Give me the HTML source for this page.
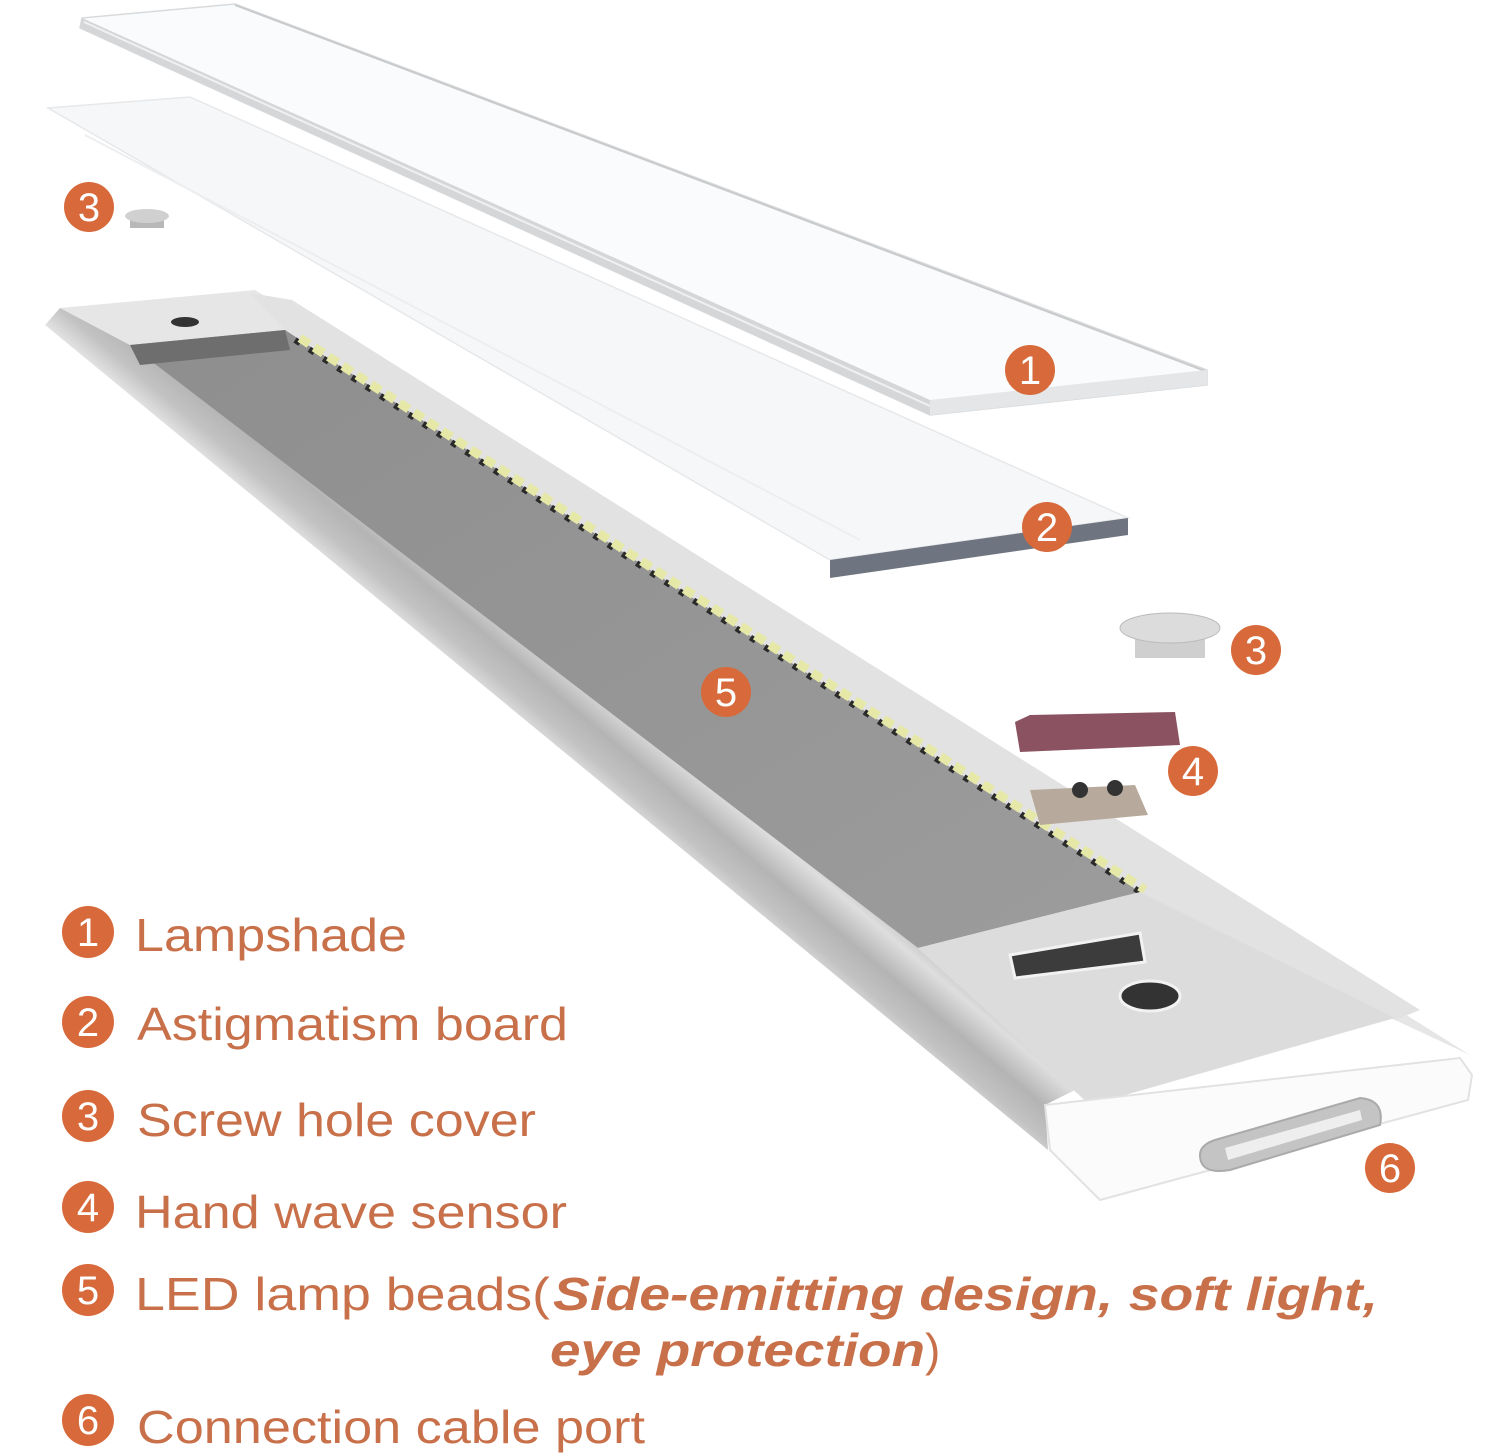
<!DOCTYPE html>
<html><head><meta charset="utf-8"><style>
html,body{margin:0;padding:0;background:#fff;}
svg{display:block}
text{font-family:"Liberation Sans",sans-serif}
</style></head><body>
<svg width="1500" height="1454" viewBox="0 0 1500 1454" xmlns="http://www.w3.org/2000/svg">
<defs>
<linearGradient id="rail" gradientUnits="userSpaceOnUse" x1="495" y1="715" x2="560" y2="638">
<stop offset="0" stop-color="#eeeeee"/><stop offset="0.3" stop-color="#c2c2c2"/><stop offset="0.55" stop-color="#b4b4b4"/><stop offset="0.85" stop-color="#dedede"/><stop offset="1" stop-color="#c6c6c6"/></linearGradient>
<linearGradient id="cav" x1="0" y1="0" x2="1" y2="1"><stop offset="0" stop-color="#8e8e8e"/><stop offset="1" stop-color="#9c9c9c"/></linearGradient>
</defs>
<!-- board 2 -->
<polygon points="48,108 190,97 1128,518 830,560" fill="#f6f7f8" stroke="#e6e8ea" stroke-width="1.5"/>
<line x1="85" y1="135" x2="860" y2="540" stroke="#eceef0" stroke-width="2"/>
<polygon points="830,560 1128,518 1128,535 830,578" fill="#6f7580"/>
<!-- lampshade -->
<polygon points="82,18 235,4 1207,370 1207,385 930,415 80,28" fill="#fafbfc" stroke="#d8dadc" stroke-width="1.5"/>
<polygon points="82,18 930,400 930,415 80,28" fill="#d4d6d8"/>
<line x1="84" y1="22" x2="930" y2="406" stroke="#eef0f1" stroke-width="2"/>
<line x1="235" y1="5" x2="1205" y2="371" stroke="#c8cacc" stroke-width="2"/>
<polygon points="930,400 1207,370 1207,385 930,415" fill="#e4e6e8"/>
<!-- body -->
<polygon points="60,308 255,290 1470,1055 1395,1020 1140,892 285,330 130,345" fill="#e6e6e6"/>
<polygon points="250,293 292,300 1420,1010 1395,1020 1140,892 285,330" fill="#e2e2e2"/>
<polygon points="285,330 1140,892 1130,898 275,345" fill="#b0b0b0"/>
<polygon points="45,325 60,308 130,345 918,948 1075,1090 1045,1105 1048,1150" fill="url(#rail)"/>
<polygon points="130,345 285,330 1140,892 918,948" fill="url(#cav)"/>
<polygon points="130,345 285,330 290,350 140,365" fill="#6e6e6e"/>
<ellipse cx="185" cy="322" rx="14" ry="5" fill="#333"/>
<!-- LEDs -->
<line x1="295" y1="340" x2="1140" y2="892" stroke="#2a2a2a" stroke-width="6" stroke-dasharray="6 11"/>
<line x1="300" y1="338" x2="1145" y2="890" stroke="#e6e8a8" stroke-width="9" stroke-dasharray="11 6"/>
<!-- end plate -->
<polygon points="918,948 1140,892 1395,1018 1090,1105" fill="#dcdcdc"/>
<polygon points="1010,955 1140,933 1145,962 1015,978" fill="#3c3c3c" stroke="#f2f2f2" stroke-width="3"/>
<ellipse cx="1150" cy="996" rx="30" ry="15" fill="#333" stroke="#f2f2f2" stroke-width="3"/>
<polygon points="1045,1105 1460,1058 1472,1075 1468,1100 1100,1200 1050,1150" fill="#fbfbfb" stroke="#e2e2e2" stroke-width="2"/>
<path d="M1215,1140 L1360,1098 Q1385,1100 1380,1125 L1230,1170 Q1200,1175 1200,1155 Q1200,1145 1215,1140 Z" fill="#c4c4c4" stroke="#aaa" stroke-width="2"/>
<path d="M1225,1148 L1360,1110 L1362,1120 L1228,1160 Z" fill="#eeeeee"/>
<!-- caps -->
<rect x="130" y="216" width="34" height="12" fill="#b8b8b8"/><ellipse cx="147" cy="216" rx="22" ry="7" fill="#d0d0d0"/>
<rect x="1135" y="628" width="70" height="30" fill="#cfcfcf"/>
<ellipse cx="1170" cy="628" rx="50" ry="15" fill="#dcdcdc" stroke="#bbb"/>
<!-- sensor -->
<polygon points="1030,715 1175,712 1180,745 1020,752 1015,722" fill="#8b5262"/>
<polygon points="1030,790 1135,785 1148,815 1040,825" fill="#b7aa9c"/>
<circle cx="1080" cy="790" r="8" fill="#333"/><circle cx="1115" cy="788" r="8" fill="#333"/>
<!-- callouts -->
<g fill="#d7693a">
<circle cx="1030" cy="370" r="25"/><circle cx="1047" cy="527" r="25"/><circle cx="89" cy="207" r="25"/>
<circle cx="1256" cy="650" r="25"/><circle cx="1193" cy="771" r="25"/><circle cx="726" cy="692" r="25"/>
<circle cx="1390" cy="1168" r="25"/>
<circle cx="88" cy="932" r="26"/><circle cx="88" cy="1022" r="26"/><circle cx="88" cy="1116" r="26"/>
<circle cx="88" cy="1207" r="26"/><circle cx="88" cy="1290" r="26"/><circle cx="88" cy="1420" r="26"/>
</g>
<g fill="#fff" font-size="40" text-anchor="middle">
<text x="1030" y="384">1</text><text x="1047" y="541">2</text><text x="89" y="221">3</text>
<text x="1256" y="664">3</text><text x="1193" y="785">4</text><text x="726" y="706">5</text>
<text x="1390" y="1182">6</text>
<text x="88" y="946">1</text><text x="88" y="1036">2</text><text x="88" y="1130">3</text>
<text x="88" y="1221">4</text><text x="88" y="1304">5</text><text x="88" y="1434">6</text>
</g>
<g fill="#c8704a" font-size="46">
<text x="135" y="951" textLength="272" lengthAdjust="spacingAndGlyphs">Lampshade</text>
<text x="137" y="1040" textLength="431" lengthAdjust="spacingAndGlyphs">Astigmatism board</text>
<text x="137" y="1136" textLength="399" lengthAdjust="spacingAndGlyphs">Screw hole cover</text>
<text x="135" y="1228" textLength="432" lengthAdjust="spacingAndGlyphs">Hand wave sensor</text>
<text x="135" y="1310" textLength="415" lengthAdjust="spacingAndGlyphs">LED lamp beads(</text>
<text x="553" y="1310" font-weight="bold" font-style="italic" textLength="825" lengthAdjust="spacingAndGlyphs">Side-emitting design, soft light,</text>
<text x="550" y="1366" font-weight="bold" font-style="italic" textLength="375" lengthAdjust="spacingAndGlyphs">eye protection</text>
<text x="925" y="1366">)</text>
<text x="137" y="1443" textLength="508" lengthAdjust="spacingAndGlyphs">Connection cable port</text>
</g>
</svg>
</body></html>
